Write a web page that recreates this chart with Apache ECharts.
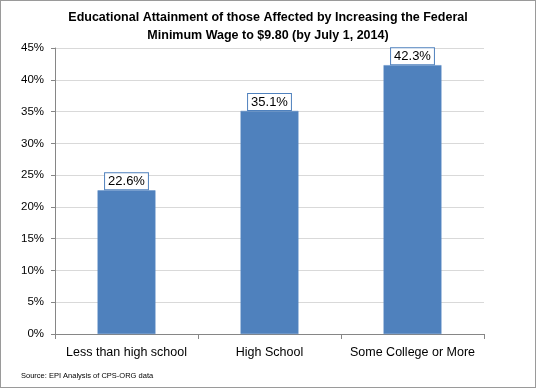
<!DOCTYPE html>
<html><head><meta charset="utf-8">
<script src="https://cdn.jsdelivr.net/npm/echarts@6/dist/echarts.min.js"></script>
<style>html,body{margin:0;padding:0;background:#fff}#c{width:536px;height:388px;box-sizing:border-box;border:1px solid #9a9a9a}</style>
</head><body><div id="c"></div>
<script>
const titleText = 'Educational Attainment of those Affected by Increasing the Federal\nMinimum Wage to $9.80 (by July 1, 2014)';
const categories = ['Less than high school', 'High School', 'Some College or More'];
const values = [22.6, 35.1, 42.3];
const sourceText = 'Source: EPI Analysis of CPS-ORG data';
const font = '"Liberation Sans", Arial, sans-serif';
const chart = echarts.init(document.getElementById('c'), null, {renderer: 'canvas'});
chart.setOption({
  animation: false,
  title: {text: titleText, left: 'center', top: 3,
    textStyle: {fontFamily: font, fontSize: 12.5, fontWeight: 'bold', color: '#000', lineHeight: 18}},
  graphic: [{type: 'text', left: 20, top: 371, style: {text: sourceText, fontFamily: font, fontSize: 7.5, fill: '#000'}}],
  grid: {left: 54, right: 51, top: 47, bottom: 53, containLabel: false},
  xAxis: {type: 'category', data: categories,
    axisLine: {lineStyle: {color: '#868686'}},
    axisTick: {show: true, length: 5, lineStyle: {color: '#868686'}},
    axisLabel: {interval: 0, fontFamily: font, fontSize: 12.5, color: '#000', margin: 12}},
  yAxis: {type: 'value', min: 0, max: 45, interval: 5,
    axisLine: {show: true, lineStyle: {color: '#868686'}},
    axisTick: {show: true, length: 4, lineStyle: {color: '#868686'}},
    splitLine: {lineStyle: {color: '#d9d9d9'}},
    axisLabel: {fontFamily: font, fontSize: 11.5, color: '#000', margin: 11, formatter: v => v + '%'}},
  series: [{type: 'bar', data: values, barWidth: '40.5%',
    itemStyle: {color: '#4f81bd', borderColor: '#5b8ac4', borderWidth: 0.5},
    label: {show: true, position: 'top', distance: 1, formatter: p => p.value.toFixed(1) + '%',
      fontFamily: font, fontSize: 13, color: '#000', backgroundColor: '#fff',
      borderColor: '#4f81bd', borderWidth: 1, padding: [2, 3, 1, 3]}}]
});
</script></body></html>
